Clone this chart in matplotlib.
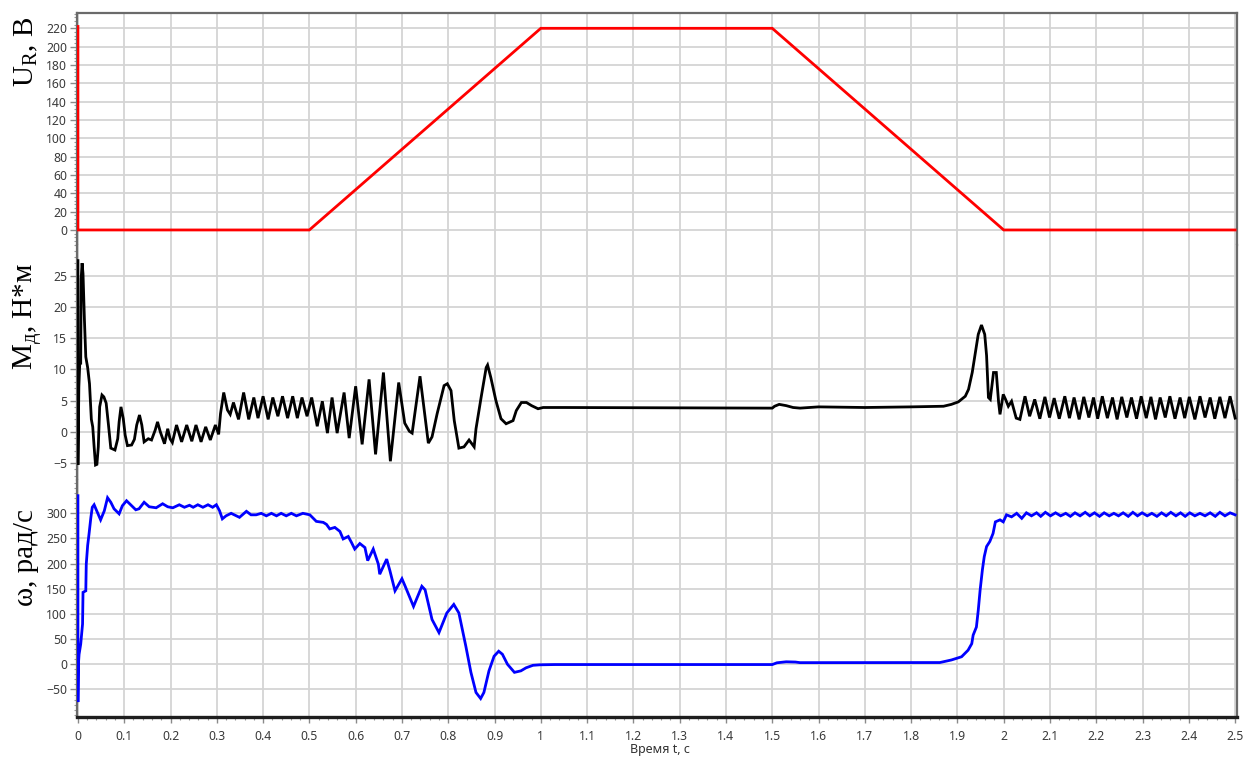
import matplotlib.pyplot as plt
from matplotlib.ticker import FixedLocator, MultipleLocator, AutoMinorLocator

plt.rcParams['mathtext.fontset'] = 'custom'
plt.rcParams['mathtext.rm'] = 'Liberation Serif'
plt.rcParams['mathtext.it'] = 'Liberation Serif:italic'

# --- data ---
voltage = [(0.000, 222), (0.000, 0), (0.500, 0), (1.000, 220),
           (1.500, 220), (2.000, 0), (2.500, 0)]

torque = [
    (0.000, 27.4), (0.000, -5.3), (0.002, 7.2), (0.004, 11.0), (0.006, 11.0),
    (0.007, 24.5), (0.009, 27.0), (0.011, 25.3), (0.014, 18.0), (0.017, 12.0),
    (0.021, 10.3), (0.025, 7.7), (0.029, 2.0), (0.032, 0.8), (0.035, -2.4),
    (0.038, -5.3), (0.041, -5.2), (0.044, -2.4), (0.047, 4.0), (0.052, 5.9),
    (0.056, 5.6), (0.061, 4.6), (0.066, 1.1), (0.071, -2.6), (0.080, -2.9),
    (0.086, -1.1), (0.089, 1.6), (0.093, 4.0), (0.098, 2.1), (0.102, -0.5),
    (0.107, -2.2), (0.116, -2.1), (0.122, -1.2), (0.127, 1.1), (0.133, 2.7),
    (0.138, 1.1), (0.143, -1.6), (0.152, -1.1), (0.159, -1.3), (0.167, 0.3),
    (0.172, 1.6), (0.178, 0.0), (0.187, -1.9), (0.194, 0.5), (0.199, -1.1),
    (0.204, -1.7), (0.213, 1.1), (0.224, -1.6), (0.235, 1.1), (0.246, -1.5),
    (0.255, 1.1), (0.266, -1.6), (0.276, 0.8), (0.286, -1.3), (0.297, 1.1),
    (0.304, -0.4), (0.308, 2.9), (0.315, 6.3), (0.323, 3.5), (0.329, 2.8),
    (0.336, 4.7), (0.347, 2.0), (0.358, 6.3), (0.369, 2.0), (0.380, 5.5),
    (0.389, 2.2), (0.400, 5.7), (0.411, 2.0), (0.421, 5.5), (0.432, 2.5),
    (0.442, 5.7), (0.453, 2.2), (0.464, 5.7), (0.474, 2.2), (0.484, 5.5),
    (0.495, 2.5), (0.505, 5.5), (0.517, 0.9), (0.528, 4.9), (0.539, -0.2),
    (0.549, 5.5), (0.560, -0.2), (0.575, 6.3), (0.586, -1.0), (0.600, 7.3),
    (0.614, -2.0), (0.629, 8.4), (0.643, -3.6), (0.660, 9.5), (0.675, -4.7),
    (0.693, 7.9), (0.706, 1.4), (0.716, 0.1), (0.722, -0.2), (0.739, 8.9),
    (0.757, -1.8), (0.765, -0.8), (0.776, 2.9), (0.791, 7.4), (0.798, 7.7),
    (0.806, 6.6), (0.813, 1.8), (0.823, -2.6), (0.834, -2.4), (0.845, -1.3),
    (0.856, -2.4), (0.860, 0.5), (0.871, 5.5), (0.882, 10.3), (0.885, 10.7),
    (0.892, 8.7), (0.903, 5.0), (0.914, 2.1), (0.925, 1.3), (0.940, 1.8),
    (0.947, 3.4), (0.958, 4.7), (0.969, 4.7), (0.980, 4.2), (0.994, 3.7),
    (1.005, 3.9), (1.050, 3.9), (1.500, 3.8), (1.505, 4.1), (1.515, 4.4),
    (1.530, 4.2), (1.545, 3.9), (1.560, 3.8), (1.600, 4.0), (1.700, 3.9),
    (1.800, 4.0), (1.870, 4.1), (1.887, 4.4), (1.902, 4.8), (1.917, 5.7),
    (1.924, 6.8), (1.932, 9.5), (1.941, 13.8), (1.945, 15.6), (1.952, 17.1),
    (1.959, 15.6), (1.963, 12.2), (1.967, 5.5), (1.971, 5.2), (1.978, 9.5),
    (1.984, 9.5), (1.989, 4.7), (1.992, 2.8), (1.999, 6.0), (2.004, 5.2),
    (2.010, 4.1), (2.017, 4.9), (2.027, 2.2), (2.035, 2.0), (2.046, 5.7),
    (2.056, 2.5), (2.067, 5.2), (2.078, 2.1), (2.089, 5.6), (2.099, 2.3),
    (2.109, 5.4), (2.120, 2.1), (2.132, 5.7), (2.142, 2.2), (2.152, 5.5),
    (2.163, 2.0), (2.173, 5.6), (2.184, 2.3), (2.194, 5.5), (2.203, 2.1),
    (2.213, 5.7), (2.224, 2.2), (2.235, 5.5), (2.245, 2.0), (2.255, 5.6),
    (2.266, 2.3), (2.276, 5.5), (2.287, 2.1), (2.297, 5.7), (2.308, 2.2),
    (2.318, 5.6), (2.328, 2.0), (2.338, 5.5), (2.349, 2.3), (2.359, 5.7),
    (2.370, 2.1), (2.381, 5.5), (2.391, 2.2), (2.401, 5.6), (2.413, 2.0),
    (2.424, 5.7), (2.435, 2.3), (2.446, 5.5), (2.456, 2.1), (2.467, 5.6),
    (2.478, 2.2), (2.489, 5.7), (2.500, 2.2),
]

speed = [
    (0.000, 335), (0.000, -75), (0.001, 0), (0.0025, 20), (0.006, 40),
    (0.010, 80), (0.011, 143), (0.017, 146), (0.018, 199), (0.021, 236),
    (0.024, 259), (0.028, 292), (0.031, 312), (0.035, 317), (0.042, 302),
    (0.049, 287), (0.057, 305), (0.064, 331), (0.071, 322), (0.078, 309),
    (0.089, 299), (0.096, 315), (0.105, 325), (0.114, 317), (0.125, 307),
    (0.132, 309), (0.143, 322), (0.154, 313), (0.169, 311), (0.183, 319),
    (0.194, 313), (0.205, 311), (0.219, 317), (0.230, 312), (0.241, 316),
    (0.249, 312), (0.259, 317), (0.270, 312), (0.281, 317), (0.291, 312),
    (0.299, 317), (0.306, 305), (0.312, 289), (0.320, 295), (0.331, 300),
    (0.342, 295), (0.349, 292), (0.364, 304), (0.374, 297), (0.385, 297),
    (0.396, 300), (0.407, 295), (0.418, 300), (0.429, 295), (0.439, 300),
    (0.450, 295), (0.461, 300), (0.472, 295), (0.486, 300), (0.501, 297),
    (0.515, 284), (0.530, 282), (0.537, 278), (0.544, 269), (0.555, 272),
    (0.566, 264), (0.573, 249), (0.584, 254), (0.591, 242), (0.598, 229),
    (0.609, 240), (0.620, 232), (0.626, 206), (0.638, 229), (0.649, 199),
    (0.652, 179), (0.667, 209), (0.674, 186), (0.685, 146), (0.700, 170),
    (0.707, 155), (0.725, 115), (0.743, 155), (0.750, 148), (0.765, 89),
    (0.780, 63), (0.797, 102), (0.812, 119), (0.823, 102), (0.838, 36),
    (0.849, -16), (0.860, -56), (0.870, -68), (0.877, -56), (0.888, -13),
    (0.899, 16), (0.909, 26), (0.917, 20), (0.928, 0), (0.943, -16),
    (0.957, -13), (0.968, -7), (0.983, -2), (0.998, -1), (1.030, -0.5),
    (1.500, -0.5), (1.510, 3), (1.530, 5), (1.550, 4.5), (1.560, 3.3),
    (1.862, 3.5), (1.887, 8.6), (1.909, 15), (1.923, 28), (1.931, 41),
    (1.934, 58), (1.941, 74), (1.945, 107), (1.949, 147), (1.954, 188),
    (1.958, 214), (1.963, 234), (1.970, 244), (1.977, 260), (1.982, 283),
    (1.992, 287), (1.999, 283), (2.006, 297), (2.017, 293), (2.028, 300),
    (2.039, 290), (2.049, 301), (2.060, 295), (2.071, 301), (2.080, 294),
    (2.090, 302), (2.101, 295), (2.112, 301), (2.123, 295), (2.134, 300),
    (2.144, 294), (2.154, 301), (2.165, 295), (2.176, 302), (2.186, 295),
    (2.196, 301), (2.207, 294), (2.217, 301), (2.228, 295), (2.238, 300),
    (2.248, 295), (2.258, 301), (2.269, 294), (2.279, 302), (2.289, 295),
    (2.299, 301), (2.310, 295), (2.320, 300), (2.331, 294), (2.341, 301),
    (2.351, 295), (2.361, 302), (2.372, 295), (2.382, 301), (2.392, 294),
    (2.402, 301), (2.413, 295), (2.424, 300), (2.435, 295), (2.446, 301),
    (2.457, 294), (2.467, 302), (2.478, 295), (2.489, 301), (2.500, 297),
]

volt_ticks = list(range(0, 221, 20))
torque_ticks = [-5, 0, 5, 10, 15, 20, 25]
speed_ticks = [-50, 0, 50, 100, 150, 200, 250, 300]
time_ticks = [round(0.1 * i, 1) for i in range(26)]

# --- figure ---
W, H = 1247, 757
fig = plt.figure(figsize=(W / 100, H / 100), dpi=100)

def box(top, bottom):
    return [77 / W, 1 - bottom / H, 1160 / W, (bottom - top) / H]

ax_u = fig.add_axes(box(13, 245))
ax_m = fig.add_axes(box(245, 480))
ax_w = fig.add_axes(box(480, 717))

grid_c = '#d4d4d4'
tick_c = '#3a3a3a'

panels = [
    (ax_u, voltage, '#ff0000', volt_ticks, (-16.4, 236.7), 4),
    (ax_m, torque, '#000000', torque_ticks, (-7.7, 29.9), 1),
    (ax_w, speed, '#0000ff', speed_ticks, (-104.7, 366.2), 10),
]

for ax, series, col, yt, ylim, ymin_step in panels:
    t, v = zip(*series)
    ax.plot(t, v, color=col, lw=2.0, solid_joinstyle='miter', zorder=3)
    ax.set_xlim(-0.002, 2.504)
    ax.set_ylim(*ylim)
    ax.yaxis.set_major_locator(FixedLocator(yt))
    ax.yaxis.set_minor_locator(MultipleLocator(ymin_step))
    ax.xaxis.set_major_locator(FixedLocator(time_ticks))
    ax.xaxis.set_minor_locator(AutoMinorLocator(5))
    ax.grid(True, which='major', color=grid_c, lw=1.3, zorder=0)
    ax.set_axisbelow(True)
    for s in ax.spines.values():
        s.set_color('#6a6a6a')
        s.set_linewidth(1.6)
    ax.spines['top'].set_visible(False)
    ax.spines['bottom'].set_visible(False)
    ax.tick_params(axis='y', which='major', direction='out', length=5,
                   width=1, color='#8a8a8a', pad=2, labelsize=8.8,
                   labelcolor=tick_c)
    ax.tick_params(axis='y', which='minor', direction='out', length=2.5,
                   width=0.8, color='#9a9a9a')
    ax.tick_params(axis='x', which='both', bottom=False, labelbottom=False)
    for lab in ax.get_yticklabels():
        lab.set_fontfamily('Noto Sans')

ax_u.spines['top'].set_visible(True)
ax_w.spines['bottom'].set_visible(True)
ax_w.spines['bottom'].set_color('#1e1e1e')
ax_w.spines['bottom'].set_linewidth(2.4)
ax_w.tick_params(axis='x', which='major', bottom=True, labelbottom=True,
                 direction='out', length=4, width=1, color='#8a8a8a',
                 pad=5, labelsize=8.8, labelcolor=tick_c)
ax_w.tick_params(axis='x', which='minor', bottom=True, direction='out',
                 length=2.5, width=0.8, color='#9a9a9a')
ax_w.set_xticklabels([f'{x:g}' for x in time_ticks])
for lab in ax_w.get_xticklabels():
    lab.set_fontfamily('Noto Sans')

# axis titles
lab_kw = dict(rotation=90, rotation_mode='anchor', ha='center', va='baseline',
              fontsize=21, family='Liberation Serif', color='#000000')
fig.text(33 / W, 1 - 52 / H, r'U$_{\mathrm{R}}$, В', **lab_kw)
fig.text(33 / W, 1 - 316 / H, r'M$_{\mathrm{д}}$, Н*м', **lab_kw)
fig.text(33 / W, 1 - 557 / H, 'ω, рад/с', **lab_kw)
fig.text(660 / W, 1 - 743 / H, 'Время t, c', ha='center', va='top',
         fontsize=9, family='Noto Sans', color='#333333')

fig.savefig('out.png', dpi=100)
